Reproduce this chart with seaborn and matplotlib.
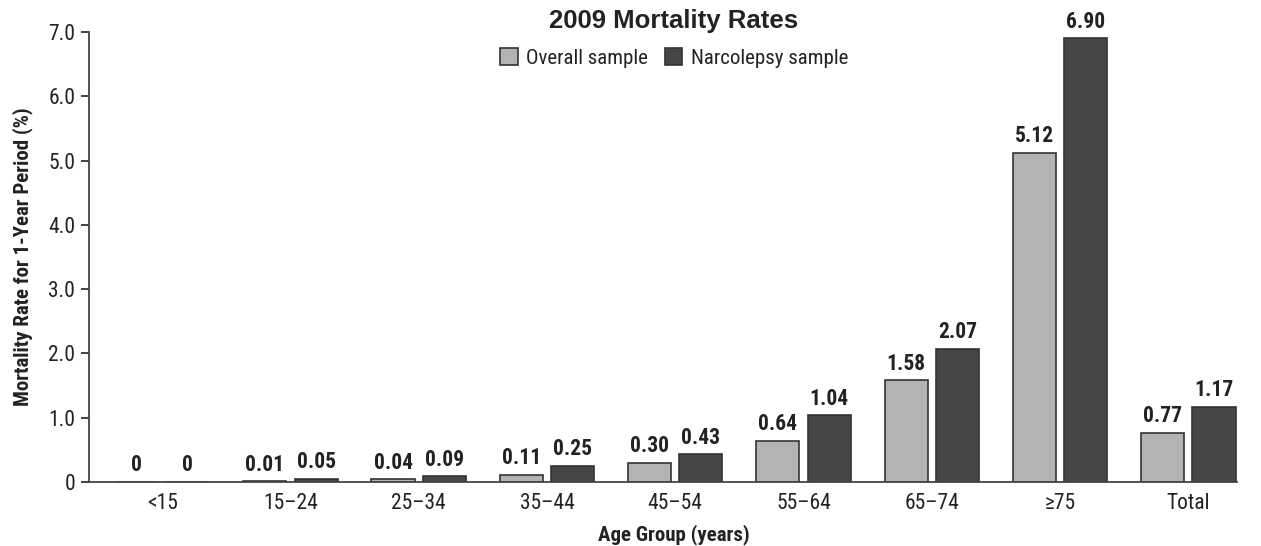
import matplotlib
matplotlib.use("Agg")
import matplotlib.pyplot as plt
import seaborn as sns
import pandas as pd
from matplotlib import font_manager

# Age groups and 1-year mortality rates (%)
age_groups = ["<15", "15\u201324", "25\u201334", "35\u201344", "45\u201354",
              "55\u201364", "65\u201374", "\u226575", "Total"]
overall_rate = [0, 0.01, 0.04, 0.11, 0.30, 0.64, 1.58, 5.12, 0.77]
narcolepsy_rate = [0, 0.05, 0.09, 0.25, 0.43, 1.04, 2.07, 6.90, 1.17]
series_names = ["Overall sample", "Narcolepsy sample"]
y_ticks = [0, 1, 2, 3, 4, 5, 6, 7]
y_tick_labels = ["0", "1.0", "2.0", "3.0", "4.0", "5.0", "6.0", "7.0"]

df = pd.DataFrame({
    "group": age_groups * 2,
    "rate": overall_rate + narcolepsy_rate,
    "sample": [series_names[0]] * len(age_groups) + [series_names[1]] * len(age_groups),
})


def first_installed(candidates):
    installed = {f.name for f in font_manager.fontManager.ttflist}
    for name in candidates:
        if name in installed:
            return name
    return "DejaVu Sans"


sns.set_theme(style="ticks")
narrow = first_installed(["Roboto Condensed", "Liberation Sans Narrow", "Arial Narrow",
                          "PT Sans Narrow", "Archivo Narrow", "Fira Sans Condensed",
                          "Open Sans Condensed", "Roboto"])
heading = first_installed(["Liberation Sans", "Arimo", "Arial", "Roboto"])
plt.rcParams["font.family"] = [narrow, "DejaVu Sans"]

text_color = "#222222"
light, dark = "#b3b3b3", "#464646"
edge = "#333333"

fig = plt.figure(figsize=(12.61, 5.46), dpi=100)
ax = fig.add_axes([0.0706, 0.1172, 0.9104, 0.8242])

sns.barplot(data=df, x="group", y="rate", hue="sample", order=age_groups,
            hue_order=series_names, palette=[light, dark], width=0.8, gap=0.16,
            edgecolor=edge, linewidth=1.2, legend=False, ax=ax)

# value labels above each bar
for container, values in zip(ax.containers, [overall_rate, narcolepsy_rate]):
    labels = ["0" if v == 0 else f"{v:.2f}" for v in values]
    ax.bar_label(container, labels=labels, padding=4, fontsize=15.5,
                 fontweight="bold", color=text_color)

ax.set_xlim(-0.57, 8.38)
ax.set_ylim(0, 7.0)
ax.set_yticks(y_ticks)
ax.set_yticklabels(y_tick_labels)
ax.tick_params(axis="y", labelsize=15.5, colors=text_color, length=6, width=1.2,
               direction="out", pad=4)
ax.tick_params(axis="x", labelsize=15.5, colors=text_color, length=0, pad=8)
for s in ["top", "right"]:
    ax.spines[s].set_visible(False)
for s in ["left", "bottom"]:
    ax.spines[s].set_color("#444444")
    ax.spines[s].set_linewidth(1.3)

ax.set_xlabel("Age Group (years)", fontsize=15, fontweight="bold",
              color=text_color)
ax.xaxis.set_label_coords((674 - 89) / (1237 - 89), -0.093)
ax.set_ylabel("Mortality Rate for 1-Year Period (%)", fontsize=15,
              fontweight="bold", color=text_color)
ax.yaxis.set_label_coords(-0.049, 0.5)

fig.text(674 / 1261, 1 - 21 / 546, "2009 Mortality Rates", ha="center",
         va="center", fontsize=18.5, fontweight="bold", color=text_color,
         family=[heading, "DejaVu Sans"])

handles = [plt.Rectangle((0, 0), 1, 1, facecolor=c, edgecolor=edge, linewidth=1.2)
           for c in (light, dark)]
fig.legend(handles, series_names, loc="center", ncol=2, frameon=False,
           bbox_to_anchor=(674 / 1261, 1 - 58 / 546), fontsize=15,
           handlelength=0.85, handleheight=0.85, handletextpad=0.4,
           columnspacing=0.8, labelcolor=text_color)

fig.savefig("out.png", dpi=100, facecolor="white")
